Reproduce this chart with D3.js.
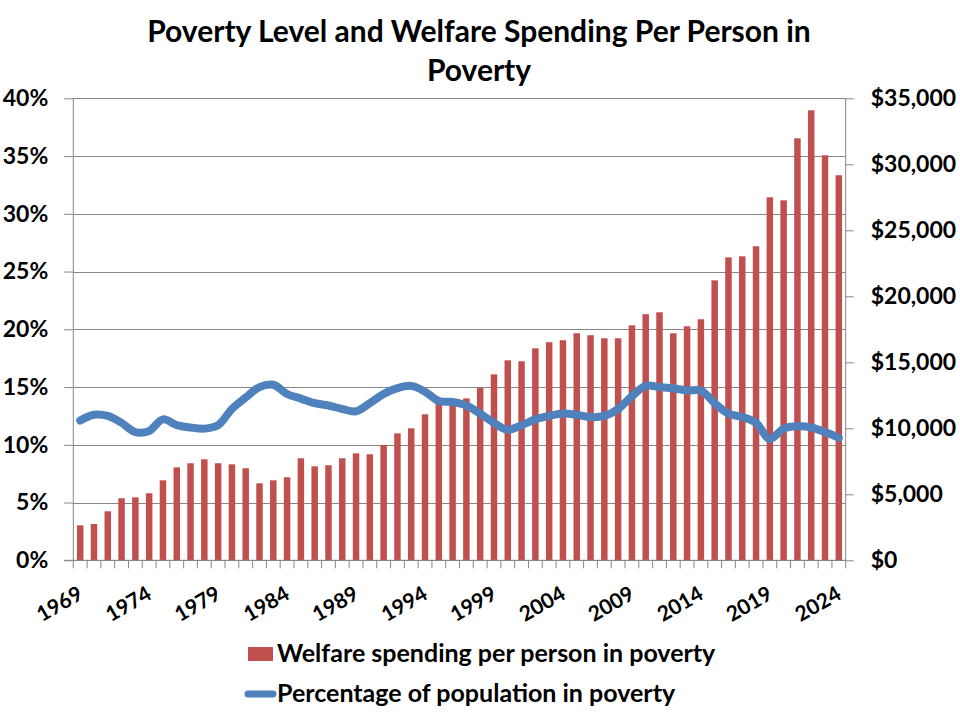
<!DOCTYPE html>
<html><head><meta charset="utf-8">
<script src="https://cdn.jsdelivr.net/npm/d3@7/dist/d3.min.js"></script>
<style>
body{margin:0;background:#fff}
svg{display:block}
text{font-family:Lato,"Open Sans",sans-serif;font-weight:700;fill:#000}
</style>
</head><body>
<svg id="c" width="960" height="720"></svg>
<script>
const years = [1969,1970,1971,1972,1973,1974,1975,1976,1977,1978,1979,1980,1981,1982,1983,1984,1985,1986,1987,1988,1989,1990,1991,1992,1993,1994,1995,1996,1997,1998,1999,2000,2001,2002,2003,2004,2005,2006,2007,2008,2009,2010,2011,2012,2013,2014,2015,2016,2017,2018,2019,2020,2021,2022,2023,2024];
const welfare = [2650,2750,3710,4700,4770,5080,6060,7040,7350,7650,7350,7270,6970,5830,6060,6290,7730,7120,7200,7730,8100,8030,8740,9620,10000,11060,11900,12050,12270,13050,14090,15150,15080,16060,16520,16670,17200,17050,16820,16820,17800,18640,18790,17200,17730,18260,21210,22950,23030,23790,27500,27270,31970,34090,30680,29170];
const poverty = [12.1,12.6,12.5,11.9,11.1,11.2,12.2,11.7,11.5,11.4,11.7,13.1,14.1,15.0,15.2,14.4,14.0,13.6,13.4,13.1,12.9,13.6,14.4,14.9,15.1,14.6,13.8,13.7,13.4,12.7,11.9,11.3,11.7,12.2,12.5,12.7,12.6,12.4,12.5,13.1,14.2,15.1,15.0,14.9,14.7,14.7,13.6,12.7,12.4,11.9,10.5,11.4,11.6,11.5,11.1,10.6];
const leftTicks = [0,5,10,15,20,25,30,35,40];
const rightTicks = [0,5000,10000,15000,20000,25000,30000,35000];
const yearLabels = [1969,1974,1979,1984,1989,1994,1999,2004,2009,2014,2019,2024];
const titleLines = ["Poverty Level and Welfare Spending Per Person in","Poverty"];
const legendBar = "Welfare spending per person in poverty";
const legendLine = "Percentage of population in poverty";

const svg = d3.select("#c");
const X0 = 73.3, X1 = 845.7, YT = 98.3, YB = 560.3;
const BAR = "#C0504D", LINE = "#4F81BD", GRID = "#868686";

const x = d3.scaleBand().domain(years).range([X0, X1]).padding(0);
const step = x.step();
const bw = step * 0.47;
const yL = d3.scaleLinear().domain([0, 40]).range([YB, YT]);
const yR = d3.scaleLinear().domain([0, 35000]).range([YB, YT]);

// title
svg.append("text").attr("x", 479).attr("text-anchor", "middle")
  .style("font-size", "30px")
  .selectAll("tspan").data(titleLines).join("tspan")
  .attr("x", 479).attr("y", (d, i) => 42 + i * 39).text(d => d);

// gridlines
svg.append("g").selectAll("line").data(leftTicks).join("line")
  .attr("x1", X0).attr("x2", X1)
  .attr("y1", d => Math.round(yL(d)) + 0.5).attr("y2", d => Math.round(yL(d)) + 0.5)
  .attr("stroke", GRID).attr("stroke-width", 1);

// bars
svg.append("g").selectAll("rect").data(years).join("rect")
  .attr("x", (d) => x(d) + (step - bw) / 2)
  .attr("width", bw)
  .attr("y", (d, i) => yR(welfare[i]))
  .attr("height", (d, i) => YB - yR(welfare[i]))
  .attr("fill", BAR);

// left axis
const gl = svg.append("g").attr("transform", `translate(${X0},0)`)
  .call(d3.axisLeft(yL).tickValues(leftTicks).tickFormat(d => d + "%").tickSize(9).tickPadding(16));
gl.select(".domain").attr("stroke", GRID).attr("d", `M0,${YT}V${YB}`);
gl.selectAll(".tick line").attr("stroke", GRID);
gl.selectAll(".tick text").style("font-size", "23px").style("font-family", "Lato,sans-serif").style("font-weight", 700).attr("fill", "#000");

// right axis
const gr = svg.append("g").attr("transform", `translate(${X1},0)`)
  .call(d3.axisRight(yR).tickValues(rightTicks).tickFormat(d => "$" + d3.format(",")(d)).tickSize(8).tickPadding(17));
gr.select(".domain").attr("stroke", GRID).attr("d", `M0,${YT}V${YB}`);
gr.selectAll(".tick line").attr("stroke", GRID);
gr.selectAll(".tick text").style("font-size", "23px").style("font-family", "Lato,sans-serif").style("font-weight", 700).attr("fill", "#000");

// bottom axis
const gb = svg.append("g");
gb.append("line").attr("x1", X0 - 9).attr("x2", X1).attr("y1", YB).attr("y2", YB).attr("stroke", GRID);
const bounds = years.map(d => x(d)).concat([X1]);
gb.selectAll("line.t").data(bounds).join("line").attr("class", "t")
  .attr("x1", d => d).attr("x2", d => d).attr("y1", YB).attr("y2", YB + 8).attr("stroke", GRID);
gb.selectAll("text").data(yearLabels).join("text")
  .attr("text-anchor", "end")
  .attr("transform", d => `translate(${x(d) + step / 2 + 4},${598}) rotate(-30)`)
  .style("font-size", "21px")
  .text(d => d);

// line
const line = d3.line()
  .x((d, i) => x(years[i]) + step / 2)
  .y(d => yL(d))
  .curve(d3.curveCatmullRom.alpha(0.5));
svg.append("path").datum(poverty).attr("d", line)
  .attr("fill", "none").attr("stroke", LINE).attr("stroke-width", 8)
  .attr("stroke-linecap", "round").attr("stroke-linejoin", "round");

// legend
const lg = svg.append("g");
lg.append("rect").attr("x", 248).attr("y", 647).attr("width", 25).attr("height", 14).attr("fill", BAR);
lg.append("text").attr("x", 277).attr("y", 662).style("font-size", "25px").text(legendBar);
lg.append("line").attr("x1", 248).attr("x2", 273).attr("y1", 694).attr("y2", 694)
  .attr("stroke", LINE).attr("stroke-width", 7).attr("stroke-linecap", "round");
lg.append("text").attr("x", 277).attr("y", 702).style("font-size", "25px").text(legendLine);
</script>
</body></html>
